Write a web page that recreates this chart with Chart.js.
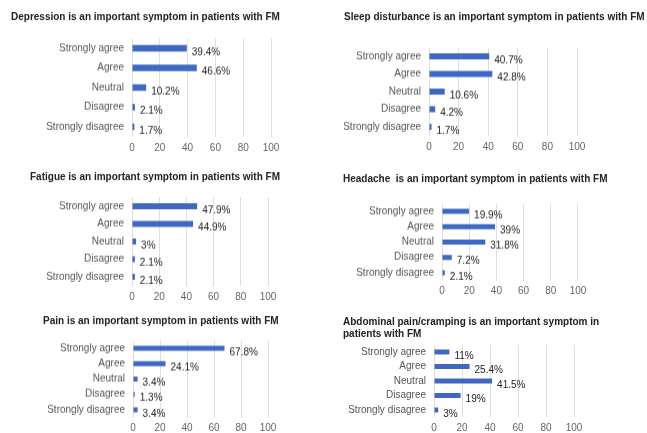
<!DOCTYPE html>
<html>
<head>
<meta charset="utf-8">
<script src="https://cdn.jsdelivr.net/npm/chart.js@4"></script>
<style>
    html, body { margin: 0; padding: 0; background: #fff; }
    #wrap { position: relative; width: 647px; height: 433px; overflow: hidden; }
    .panel { position: absolute; }
</style>
</head>
<body>
<div id="wrap"></div>
<script>
const categories = ['Strongly agree', 'Agree', 'Neutral', 'Disagree', 'Strongly disagree'];
const xTicks = [0, 20, 40, 60, 80, 100];

const titles = [
    'Depression is an important symptom in patients with FM',
    'Sleep disturbance is an important symptom in patients with FM',
    'Fatigue is an important symptom in patients with FM',
    'Headache  is an important symptom in patients with FM',
    'Pain is an important symptom in patients with FM',
    ['Abdominal pain/cramping is an important symptom in', 'patients with FM']
];

const depression = [39.4, 46.6, 10.2, 2.1, 1.7];
const sleep = [40.7, 42.8, 10.6, 4.2, 1.7];
const fatigue = [47.9, 44.9, 3, 2.1, 2.1];
const headache = [19.9, 39, 31.8, 7.2, 2.1];
const pain = [67.8, 24.1, 3.4, 1.3, 3.4];
const abdominal = [11, 25.4, 41.5, 19, 3];

const series = [depression, sleep, fatigue, headache, pain, abdominal];

// where each panel sits on the page (title left/centre, x=0 and x=100, first/last row)
const layout = [
    { tx: 11, ty: 17, x0: 132, x100: 271, r0: 48, r1: 126, right: 320 },
    { tx: 344, ty: 17, x0: 429, x100: 577, r0: 56, r1: 126, right: 647 },
    { tx: 30, ty: 177, x0: 132, x100: 268, r0: 206, r1: 276, right: 320 },
    { tx: 343, ty: 179, x0: 442, x100: 578, r0: 211, r1: 272, right: 647 },
    { tx: 43, ty: 321, x0: 133, x100: 268, r0: 348, r1: 409, right: 320 },
    { tx: 343, ty: 322, x0: 434, x100: 574, r0: 352, r1: 410, right: 647 }
];

const FONT = "'Liberation Sans', Arial, sans-serif";
const TITLE_SIZE = 10;
const X_AXIS_H = 20;

const valueLabels = {
    id: 'valueLabels',
    afterDatasetsDraw(chart) {
        const ctx = chart.ctx;
        const meta = chart.getDatasetMeta(0);
        const data = chart.data.datasets[0].data;
        ctx.save();
        ctx.font = '10px ' + FONT;
        ctx.fillStyle = '#222';
        ctx.textAlign = 'left';
        ctx.textBaseline = 'middle';
        meta.data.forEach((bar, i) => {
            ctx.fillText(data[i] + '%', bar.x + 5, bar.y + 4);
        });
        ctx.restore();
    }
};

const charts = [];

function makePanel(idx) {
    const L = layout[idx];
    const title = titles[idx];
    const lines = Array.isArray(title) ? title.length : 1;
    const lineH = TITLE_SIZE * 1.2;
    const step = (L.r1 - L.r0) / 4;
    const areaTop = L.r0 - step / 2;
    const areaBottom = L.r1 + step / 2;
    const top = L.ty - lineH / 2;
    const width = L.right - L.tx;
    const height = areaBottom - top + X_AXIS_H;
    // the plot runs to the right edge of the canvas, so stretch the axis past 100
    const xMax = 100 * (L.right - L.x0) / (L.x100 - L.x0);

    const div = document.createElement('div');
    div.className = 'panel';
    div.style.left = L.tx + 'px';
    div.style.top = top + 'px';
    div.style.width = width + 'px';
    div.style.height = height + 'px';
    const canvas = document.createElement('canvas');
    div.appendChild(canvas);
    document.getElementById('wrap').appendChild(div);

    charts.push(new Chart(canvas, {
        type: 'bar',
        data: {
            labels: categories,
            datasets: [{
                data: series[idx],
                backgroundColor: '#3f68c3',
                categoryPercentage: 1,
                barPercentage: 0.34
            }]
        },
        options: {
            indexAxis: 'y',
            responsive: true,
            maintainAspectRatio: false,
            animation: false,
            layout: { padding: 0 },
            plugins: {
                legend: { display: false },
                tooltip: { enabled: false },
                title: {
                    display: true,
                    text: title,
                    align: 'start',
                    color: '#222',
                    font: { family: FONT, size: TITLE_SIZE, weight: 'bold', lineHeight: 1.2 },
                    padding: { top: 0, bottom: areaTop - top - lines * lineH }
                }
            },
            scales: {
                x: {
                    min: 0,
                    max: xMax,
                    afterBuildTicks(scale) {
                        scale.ticks = xTicks.map(v => ({ value: v }));
                    },
                    afterFit(scale) {
                        scale.height = X_AXIS_H;
                        scale.paddingRight = 0;
                    },
                    ticks: {
                        color: '#666',
                        font: { family: FONT, size: 10 },
                        padding: 5,
                        maxRotation: 0,
                        autoSkip: false
                    },
                    grid: { color: '#dedede', drawTicks: false },
                    border: { display: false }
                },
                y: {
                    afterFit(scale) { scale.width = L.x0 - L.tx; },
                    ticks: {
                        color: '#555',
                        font: { family: FONT, size: 10 },
                        padding: 8,
                        autoSkip: false
                    },
                    grid: { display: false, drawTicks: false },
                    border: { display: false }
                }
            }
        },
        plugins: [valueLabels]
    }));
}

for (let i = 0; i < layout.length; i++) makePanel(i);
</script>
</body>
</html>
